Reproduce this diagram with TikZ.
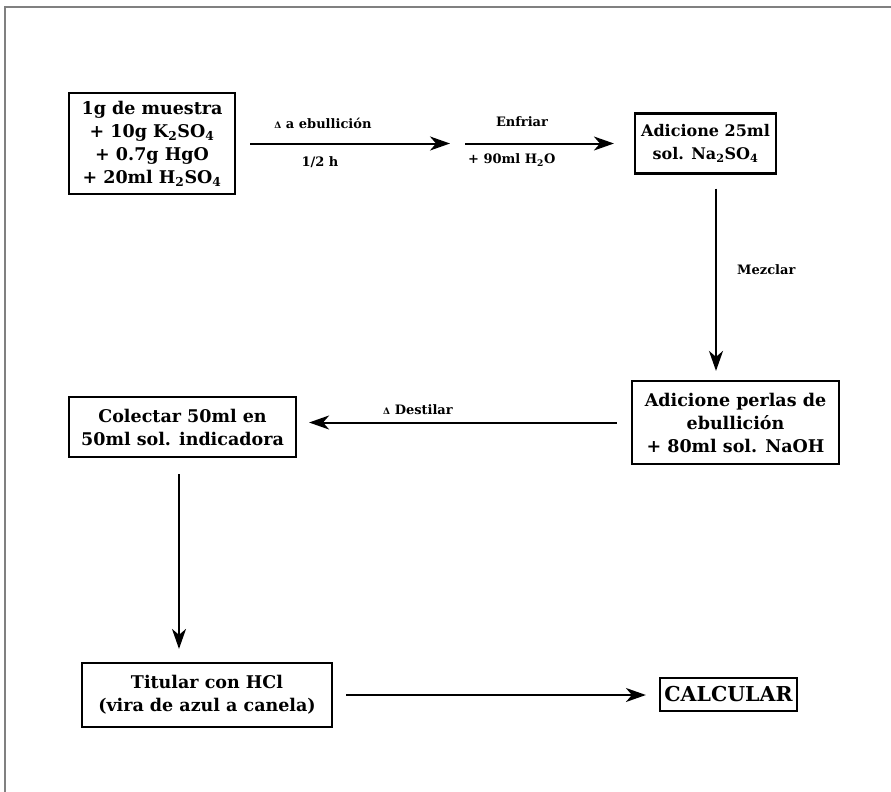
\documentclass[tikz,border=0pt]{standalone}
\usepackage{fontspec}
\setmainfont{DejaVu Serif}
\usetikzlibrary{arrows.meta}
\newcommand{\heat}{{\fontsize{9}{9}\selectfont Δ}}
\begin{document}
\begin{tikzpicture}[x=1pt,y=-1pt,
  stepbox/.style={draw, line width=2.2pt, align=center, inner sep=2pt,
    font=\fontsize{17.5}{23}\selectfont\bfseries},
  lbl/.style={inner sep=0pt, font=\fontsize{13}{15}\selectfont\bfseries},
  arr/.style={line width=2pt, -{Stealth[length=20pt,width=14pt,inset=6pt]}}]
\useasboundingbox (0,0) rectangle (891,792);
% page frame (left and top edges)
\draw[gray, line width=2pt] (891,7) -- (5,7) -- (5,792);

% process steps
\node[stepbox, minimum width=166pt, minimum height=101pt] (b1) at (152,143.5)
  {1g de muestra\\+ 10g K\textsubscript{2}SO\textsubscript{4}\\+ 0.7g HgO\\+ 20ml H\textsubscript{2}SO\textsubscript{4}};
\node[stepbox, minimum width=141pt, minimum height=60pt,
  font=\fontsize{16}{23}\selectfont\bfseries] (b3) at (705.5,143.5)
  {Adicione 25ml\\sol. Na\textsubscript{2}SO\textsubscript{4}};
\node[stepbox, minimum width=207pt, minimum height=83pt] (b4) at (735.5,422.5)
  {Adicione perlas de\\ebullición\\+ 80ml sol. NaOH};
\node[stepbox, minimum width=227pt, minimum height=60pt] (b5) at (182.5,427)
  {Colectar 50ml en\\50ml sol. indicadora};
\node[stepbox, minimum width=250pt, minimum height=64pt] (b6) at (207,695)
  {Titular con HCl\\(vira de azul a canela)};
\node[stepbox, minimum width=137pt, minimum height=33pt, inner sep=1pt,
  font=\fontsize{20.5}{23}\selectfont\bfseries] (b7) at (728.5,694.5) {CALCULAR};

% junction between the two heating/cooling arrows
\coordinate (j1) at (450,143.5);
\coordinate (j2) at (465,143.5);

% connectors
\draw[arr, shorten <=14pt] (b1.east) -- (j1);
\draw[arr, shorten >=20pt] (j2) -- (b3.west);
\draw[arr, shorten <=14pt, shorten >=9pt] ([xshift=10.5pt]b3.south) -- ([xshift=-19.5pt]b4.north);
\draw[arr, shorten <=14pt, shorten >=12pt] (b4.west) -- (b4.west -| b5.east);
\draw[arr, shorten <=16pt, shorten >=13pt] ([xshift=-3.5pt]b5.south) -- ([xshift=-3.5pt]b5.south |- b6.north);
\draw[arr, shorten <=13pt, shorten >=13pt] (b6.east) -- (b6.east -| b7.west);

% connector labels
\node[lbl] (l1) at (323,123) {\heat{} a ebullición};
\node[lbl] (l2) at (320,162) {1/2 h};
\node[lbl] (l3) at (522,122) {Enfriar};
\node[lbl, anchor=west] (l4) at (468,160) {+ 90ml H\textsubscript{2}O};
\node[lbl, anchor=west] (l5) at (737,270) {Mezclar};
\node[lbl] (l6) at (418,410) {\heat{} Destilar};
\end{tikzpicture}
\end{document}
